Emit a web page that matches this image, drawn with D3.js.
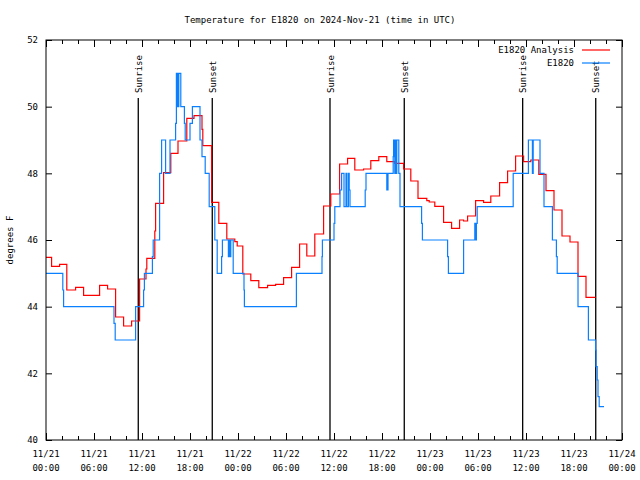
<!DOCTYPE html>
<html>
<head>
<meta charset="utf-8">
<script src="https://cdn.jsdelivr.net/npm/d3@7"></script>
<style>
  html, body { margin: 0; padding: 0; background: #fff; }
  svg { display: block; }
  text { font-family: "DejaVu Sans Mono", monospace; font-size: 9px; fill: #000; }
</style>
</head>
<body>
<svg id="chart" width="640" height="480"></svg>
<script>
// ---- data (hours since 2024-11-21 00:00 UTC) ----
const startTime = "2024-11-21T00:00:00Z";
const endTime = "2024-11-24T00:00:00Z";
const titleText = "Temperature for E1820 on 2024-Nov-21 (time in UTC)";
const yLabel = "degrees F";
const yTicks = [40, 42, 44, 46, 48, 50, 52];

const analysisHours = [0, 0.7, 1.7, 2.6, 3.7, 4.7, 6.7, 7.7, 8.7, 9.7, 10.7, 11.7, 12.5, 12.6, 13.6, 13.7,
  14.7, 15.6, 16.5, 17.6, 18.5, 19.5, 19.6, 20.7, 21.6, 22.6, 23.6, 23.9, 24.6, 25.6, 26.6, 27.7,
  28.7, 29.7, 30.7, 31.7, 32.6, 33.6, 34.7, 35.6, 36.7, 37.7, 38.6, 39.7, 40.6, 41.6, 42.6, 43.6,
  44.7, 45.6, 46.5, 47.6, 47.9, 48.6, 49.7, 50.7, 51.7, 52.2, 52.7, 53.7, 54.7, 55.6, 56.7, 57.7,
  58.7, 59.7, 60.6, 61.6, 62.5, 63.5, 64.5, 65.5, 66.5, 67.5, 68.7];
const analysisTemps = [45.48, 45.21, 45.27, 44.5, 44.58, 44.34, 44.64, 44.53, 43.69, 43.42, 43.57, 44.83, 45.13, 45.45, 46.27, 47.1,
  48.02, 48.6, 48.97, 49.65, 49.73, 49.32, 48.83, 47.13, 46.5, 46.03, 45.95, 45.82, 44.98, 44.78, 44.57, 44.64,
  44.67, 44.87, 45.18, 45.88, 45.52, 46.18, 47.02, 47.38, 48.28, 48.45, 48.1, 48.13, 48.38, 48.5, 48.35, 48.3,
  48.13, 47.77, 47.25, 47.18, 47.14, 47.01, 46.53, 46.35, 46.6, 46.57, 46.72, 47.18, 47.13, 47.32, 47.72, 48.07,
  48.52, 48.35, 48.4, 47.97, 47.48, 46.9, 46.12, 45.94, 44.91, 44.28, 44.28];

const obsHours = [0, 2.1, 2.2, 8.5, 8.65, 11.2, 12.2, 12.3, 13.3, 13.4, 14.2, 14.45, 14.95, 15.5, 16.2, 16.3,
  16.45, 16.5, 16.55, 16.6, 16.85, 17.3, 17.4, 18.0, 18.3, 19.25, 19.5, 19.9, 20.4, 21.1, 21.4, 21.95,
  22.05, 22.8, 22.9, 23.0, 23.1, 23.4, 24.75, 24.8, 31.3, 34.5, 34.55, 36.0, 36.1, 36.75, 36.95, 37.25,
  37.5, 37.6, 37.8, 37.9, 38.0, 39.9, 40.0, 42.6, 42.75, 43.4, 43.45, 43.6, 43.65, 43.8, 43.85, 44.1,
  44.25, 46.95, 47.05, 50.2, 50.3, 52.2, 53.6, 53.7, 53.8, 53.9, 58.4, 60.3, 60.8, 60.9, 61.75, 62.25,
  63.3, 63.8, 63.9, 66.5, 67.8, 68.7, 68.75, 68.9, 69.0, 69.15, 69.75];
const obsTemps = [45, 44.5, 44, 43.5, 43, 44, 44.5, 45, 45.5, 46, 48, 49, 48, 49, 49.5, 51,
  50, 51, 50, 51, 50, 49.5, 49, 49.5, 50, 49, 48.5, 48, 47, 46, 45, 45.5,
  46, 45.5, 46, 45.5, 46, 45, 44.5, 44, 45, 45.5, 46, 46.5, 47, 47.5, 48, 47,
  48, 47, 48, 47.5, 47, 47.5, 48, 47.5, 48, 48.5, 49, 48, 49, 48, 49, 48,
  47, 46.5, 46, 45.5, 45, 46, 46.5, 46, 46.5, 47, 48, 49, 48, 49, 48, 47,
  46, 45.5, 45, 44, 43, 42.7, 42.2, 41.8, 41.3, 41.0, 41.0];

const sunEvents = [
  {label: "Sunrise", time: "2024-11-21T11:32:00Z"},
  {label: "Sunset",  time: "2024-11-21T20:47:00Z"},
  {label: "Sunrise", time: "2024-11-22T11:30:00Z"},
  {label: "Sunset",  time: "2024-11-22T20:47:00Z"},
  {label: "Sunrise", time: "2024-11-23T11:35:00Z"},
  {label: "Sunset",  time: "2024-11-23T20:43:00Z"}
];
const seriesNames = ["E1820 Analysis", "E1820"];
const seriesColors = ["#ff0000", "#0a80ff"];

// ---- chart ----
const svg = d3.select("#chart");
const M = {left: 46, right: 18, top: 40, bottom: 40};
const W = 640, H = 480;
const t0 = new Date(startTime), t1 = new Date(endTime);
const x = d3.scaleUtc().domain([t0, t1]).range([M.left, W - M.right]);
const y = d3.scaleLinear().domain([40, 52]).range([H - M.bottom, M.top]);
const toDate = h => new Date(t0.getTime() + h * 3600e3);

const analysis = analysisHours.map((h, i) => ({t: toDate(h), v: analysisTemps[i]}));
const obs = obsHours.map((h, i) => ({t: toDate(h), v: obsTemps[i]}));

svg.append("defs").append("clipPath").attr("id", "clip")
  .append("rect").attr("x", M.left).attr("y", M.top)
  .attr("width", W - M.left - M.right).attr("height", H - M.top - M.bottom);

// Title
svg.append("text").attr("x", 320).attr("y", 23).attr("text-anchor", "middle").text(titleText);

// Y label
svg.append("text").attr("transform", "translate(13,240) rotate(-90)")
  .attr("text-anchor", "middle").text(yLabel);

// Axes
const majorX = d3.utcHour.every(6).range(t0, new Date(t1.getTime() + 1));
const minorX = d3.utcHour.every(2).range(t0, new Date(t1.getTime() + 1));

const axB = d3.axisBottom(x).tickValues(minorX).tickSize(-4).tickFormat("");
const axT = d3.axisTop(x).tickValues(minorX).tickSize(-4).tickFormat("");
const axBM = d3.axisBottom(x).tickValues(majorX).tickSize(-7).tickFormat("");
const axTM = d3.axisTop(x).tickValues(majorX).tickSize(-7).tickFormat("");
const axL = d3.axisLeft(y).tickValues(yTicks).tickSize(-6).tickFormat(d3.format("d"));
const axR = d3.axisRight(y).tickValues(yTicks).tickSize(-6).tickFormat("");

function styleAxis(g) {
  g.select(".domain").remove();
  g.selectAll(".tick line").attr("stroke", "#000").attr("stroke-width", 1);
}
svg.append("g").attr("transform", `translate(0,${H - M.bottom})`).call(axB).call(styleAxis);
svg.append("g").attr("transform", `translate(0,${M.top})`).call(axT).call(styleAxis);
svg.append("g").attr("transform", `translate(0,${H - M.bottom})`).call(axBM).call(styleAxis);
svg.append("g").attr("transform", `translate(0,${M.top})`).call(axTM).call(styleAxis);
const gl = svg.append("g").attr("transform", `translate(${M.left},0)`).call(axL).call(styleAxis);
gl.selectAll(".tick text").attr("x", -8).attr("font-family", "DejaVu Sans Mono").attr("font-size", 9).attr("fill", "#000");
svg.append("g").attr("transform", `translate(${W - M.right},0)`).call(axR).call(styleAxis);

// X tick labels (two lines)
const fmtD = d3.utcFormat("%m/%d"), fmtT = d3.utcFormat("%H:%M");
const xl = svg.append("g");
majorX.forEach(d => {
  const t = xl.append("text").attr("x", x(d)).attr("y", 457).attr("text-anchor", "middle");
  t.text(fmtD(d));
  xl.append("text").attr("x", x(d)).attr("y", 471).attr("text-anchor", "middle").text(fmtT(d));
});

// Sunrise / Sunset
sunEvents.forEach(e => {
  const xx = x(new Date(e.time));
  svg.append("line").attr("x1", xx).attr("x2", xx).attr("y1", 98).attr("y2", H - M.bottom)
    .attr("stroke", "#000").attr("stroke-width", 1.3);
  svg.append("text").attr("transform", `translate(${xx + 3.5},93) rotate(-90)`)
    .attr("text-anchor", "start").text(e.label);
});

// Lines
const line = d3.line().x(d => x(d.t)).y(d => y(d.v)).curve(d3.curveStepAfter);
const plot = svg.append("g").attr("clip-path", "url(#clip)");
plot.append("path").datum(analysis).attr("d", line).attr("fill", "none")
  .attr("stroke", seriesColors[0]).attr("stroke-width", 1.2);
plot.append("path").datum(obs).attr("d", line).attr("fill", "none")
  .attr("stroke", seriesColors[1]).attr("stroke-width", 1.2);

// Frame
svg.append("rect").attr("x", M.left).attr("y", M.top)
  .attr("width", W - M.left - M.right).attr("height", H - M.top - M.bottom)
  .attr("fill", "none").attr("stroke", "#000").attr("stroke-width", 1);

// Legend
const lg = svg.append("g");
seriesNames.forEach((n, i) => {
  const yy = 50 + i * 13;
  lg.append("text").attr("x", 574).attr("y", yy + 3).attr("text-anchor", "end").text(n);
  lg.append("line").attr("x1", 582).attr("x2", 610).attr("y1", yy).attr("y2", yy)
    .attr("stroke", seriesColors[i]).attr("stroke-width", 1.2);
});
</script>
</body>
</html>
